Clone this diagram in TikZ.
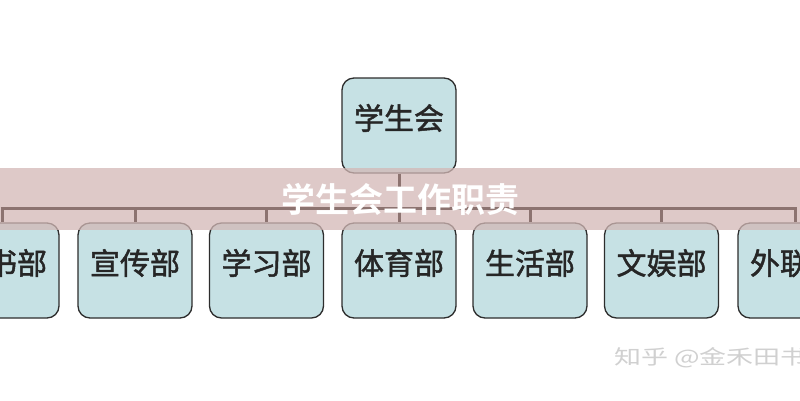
\documentclass[tikz,border=0pt]{standalone}
\usepackage{fontspec}
\newfontfamily\cjk{Noto Sans CJK SC}[FakeBold=1.6]
\newfontfamily\cjkplain{Noto Sans CJK SC}
\newfontfamily\cjkbold{Noto Sans CJK SC Bold}
\definecolor{boxfill}{RGB}{198,225,228}
\definecolor{boxline}{RGB}{45,45,45}
\definecolor{connline}{RGB}{140,115,112}
\definecolor{bandcol}{RGB}{211,184,182}
\definecolor{wmark}{RGB}{208,208,208}
\tikzset{
  orgbox/.style={draw=boxline, line width=1.3pt, fill=boxfill, rounded corners=12pt,
    minimum width=114pt, minimum height=95pt, inner sep=0pt,
    font=\cjk\fontsize{30pt}{36pt}\selectfont, text=black!85, text height=24pt, text depth=16pt},
  conn/.style={draw=connline, line width=3pt},
}
\begin{document}
\begin{tikzpicture}[x=1pt,y=-1pt]
\useasboundingbox (0,0) rectangle (800,400);
\clip (0,0) rectangle (800,400);
\fill[white] (0,0) rectangle (800,400);
% boxes
\node[orgbox] (root) at (399,125.5) {学生会};
\node[orgbox] (c1) at (2,270.5) {秘书部};
\node[orgbox] (c2) at (135,270.5) {宣传部};
\node[orgbox] (c3) at (266.5,270.5) {学习部};
\node[orgbox] (c4) at (399,270.5) {体育部};
\node[orgbox] (c5) at (530,270.5) {生活部};
\node[orgbox] (c6) at (661.5,270.5) {文娱部};
\node[orgbox] (c7) at (795,270.5) {外联部};
% band
\fill[bandcol, opacity=0.75] (0,168) rectangle (800,230);
% connectors
\coordinate (bus) at (0,208);
\draw[conn] (root.south) -- (root.south |- bus);
\draw[conn] ([xshift=-1.5pt]c1.north |- bus) -- ([xshift=1.5pt]c7.north |- bus);
\foreach \c in {c1,c2,c3,c4,c5,c6,c7}{
  \draw[conn] (\c.north |- bus) -- (\c.north);
}
% title
\node[text=white, font=\cjkbold\fontsize{34pt}{40pt}\selectfont] (title) at (400,200) {学生会工作职责};
% watermark
\node[anchor=west, text=wmark, font=\cjkplain\fontsize{20pt}{24pt}\selectfont, inner sep=0pt, xscale=1.35] (wm) at (614,358) {知乎 @金禾田书};
\end{tikzpicture}
\end{document}
